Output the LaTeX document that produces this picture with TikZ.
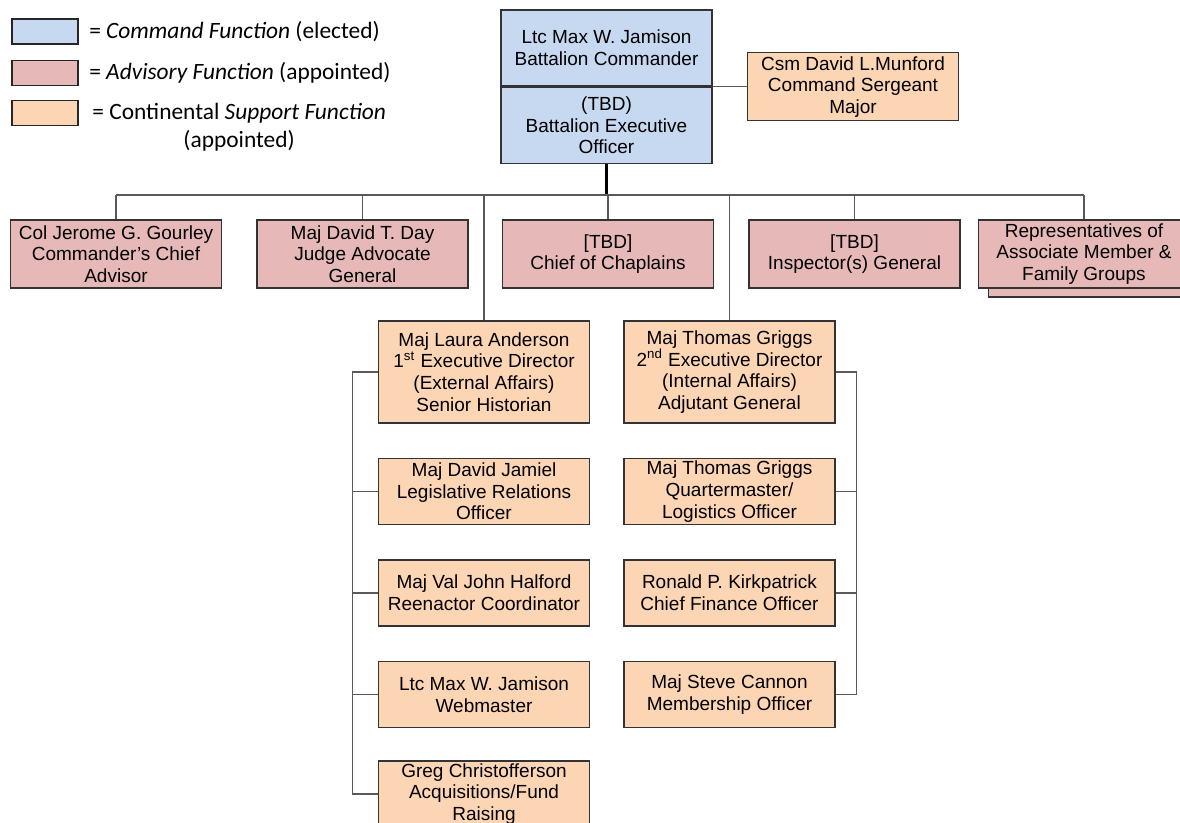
\documentclass[tikz,border=0pt]{standalone}
\usepackage{fontspec}
\setmainfont{Liberation Sans}
\newfontfamily\keyfont{Carlito}
\usepackage{tikz}
\usetikzlibrary{positioning, shadows}
\definecolor{cmdblue}{RGB}{198,217,241}
\definecolor{advpink}{RGB}{230,185,184}
\definecolor{suporange}{RGB}{252,213,181}
\tikzset{
post/.style={draw=black!80, line width=0.75pt, align=center, minimum width=105.5pt, inner sep=1pt, font=\fontsize{9.5}{10.8}\selectfont}, % every office box
command/.style={post, fill=cmdblue, minimum height=38pt},
advisory/.style={post, fill=advpink, minimum height=34pt},
support/.style={post, fill=suporange, minimum height=33pt},
link/.style={draw=black!65, line width=0.6pt}, % thin org-chart lines
stem/.style={draw=black, line width=1.3pt},
swatch/.style={draw=black!85, line width=0.9pt, minimum width=33pt, minimum height=12.5pt, inner sep=0pt},
keytext/.style={font=\keyfont\fontsize{11.7}{14}\selectfont, align=center, inner sep=0pt},
}

\begin{document}
\begin{tikzpicture}[x=0.5pt, y=-0.5pt]
\clip (0,0) rectangle (1180,823);
% key
\node[swatch, fill=cmdblue] (keycmd) at (45,31.5) {};
\node[swatch, fill=advpink] (keyadv) at (45,73) {};
\node[swatch, fill=suporange] (keysup) at (45,113) {};
\node[keytext, right=5pt of keycmd] (keycmdtext) {= \textit{Command Function} (elected)};
\node[keytext, right=5pt of keyadv] (keyadvtext) {= \textit{Advisory Function} (appointed)};
\node[keytext, anchor=north west] (keysuptext) at (92,103) {= Continental \textit{Support Function}\\(appointed)};
% command
\node[command] (cmd) at (606.5,48) {Ltc Max W. Jamison\\Battalion Commander};
\node[command, below=0pt of cmd] (xo) {(TBD)\\Battalion Executive\\Officer};
\node[support, minimum height=34pt, right=17pt of cmd.south east] (csm) {Csm David L.Munford\\Command Sergeant\\Major};
% advisory row
\node[advisory] (gourley) at (116,254) {Col Jerome G. Gourley\\Commander's Chief\\Advisor};
\node[advisory, right=17pt of gourley] (day) {Maj David T. Day\\Judge Advocate\\General};
\node[advisory, right=16.5pt of day] (chaplains) {[TBD]\\Chief of Chaplains};
\node[advisory, right=17pt of chaplains] (inspector) {[TBD]\\Inspector(s) General};
\node[advisory, copy shadow={shadow xshift=5pt, shadow yshift=-4.5pt}, right=8.5pt of inspector] (reps) {Representatives of\\Associate Member \&\\Family Groups};
% support columns
\node[support, minimum height=51pt] (anderson) at (484,372) {Maj Laura Anderson\\1\textsuperscript{st} Executive Director\\(External Affairs)\\Senior Historian};
\node[support, below=17pt of anderson] (jamiel) {Maj David Jamiel\\Legislative Relations\\Officer};
\node[support, below=17pt of jamiel] (halford) {Maj Val John Halford\\Reenactor Coordinator};
\node[support, below=17pt of halford] (webmaster) {Ltc Max W. Jamison\\Webmaster};
\node[support, inner ysep=0pt, below=16pt of webmaster] (greg) {Greg Christofferson\\Acquisitions/Fund\\Raising};
\node[support, minimum height=51pt, right=16.5pt of anderson] (griggs) {Maj Thomas Griggs\\2\textsuperscript{nd} Executive Director\\(Internal Affairs)\\Adjutant General};
\node[support, below=17pt of griggs] (quartermaster) {Maj Thomas Griggs\\Quartermaster/\\Logistics Officer};
\node[support, below=17pt of quartermaster] (kirkpatrick) {Ronald P. Kirkpatrick\\Chief Finance Officer};
\node[support, below=17pt of kirkpatrick] (cannon) {Maj Steve Cannon\\Membership Officer};
% lines
\coordinate (bus) at (606.5,195);
\coordinate (ltrunk) at ([xshift=-12.5pt]anderson.west);
\coordinate (rtrunk) at ([xshift=10.5pt]griggs.east);
\draw[stem] (xo.south) -- (bus);
\draw[link] (gourley.north |- bus) -- (reps.north |- bus);
\foreach \n in {gourley,day,chaplains,inspector,reps,anderson,griggs}
  \draw[link] (\n.north) -- (\n.north |- bus);
\draw[link] (cmd.south east) -- (csm.west);
\draw[link] (anderson.west) -- (ltrunk) |- (greg.west);
\foreach \n in {jamiel,halford,webmaster}
  \draw[link] (\n.west) -- (\n.west -| ltrunk);
\draw[link] (griggs.east) -- (rtrunk) |- (cannon.east);
\foreach \n in {quartermaster,kirkpatrick}
  \draw[link] (\n.east) -- (\n.east -| rtrunk);
\end{tikzpicture}
\end{document}
